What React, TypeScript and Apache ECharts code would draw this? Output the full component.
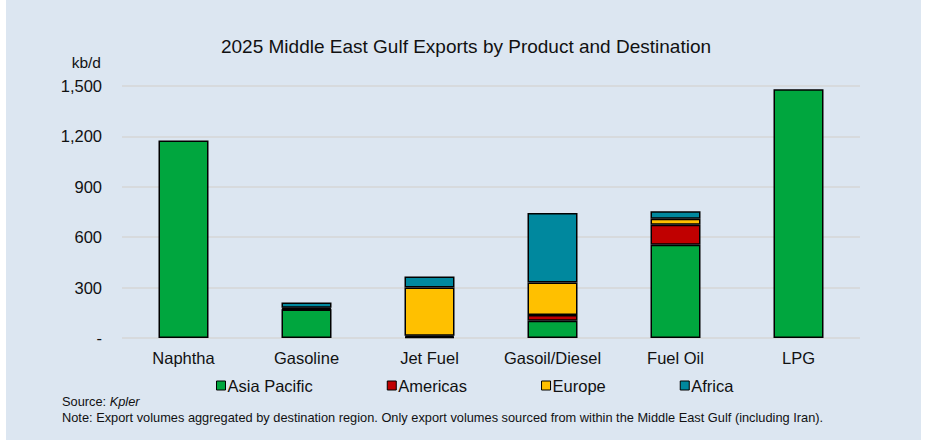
import React, { useEffect, useRef } from "react";
import * as echarts from "echarts";

// Products on the x axis
const categories = ["Naphtha", "Gasoline", "Jet Fuel", "Gasoil/Diesel", "Fuel Oil", "LPG"];

// Export volumes by destination region, kb/d
const asiaPacific = [1175, 170, 6, 103, 555, 1480];
const americas = [0, 3, 8, 34, 119, 0];
const europe = [0, 7, 286, 193, 36, 0];
const africa = [0, 32, 66, 414, 45, 0];

const seriesNames = ["Asia Pacific", "Americas", "Europe", "Africa"];
const seriesColors = ["#00A63E", "#C00000", "#FFC000", "#00889E"];

// Y axis ticks
const yMin = 0;
const yMax = 1500;
const yInterval = 300;

const FONT = "'Liberation Sans', Arial, sans-serif";
const TEXT = "#111111";

export default function App() {
  const ref = useRef<HTMLDivElement>(null);

  useEffect(() => {
    document.body.style.margin = "0";
    if (!ref.current) return;
    const chart = echarts.init(ref.current, undefined, { renderer: "svg" });

    const values = [asiaPacific, americas, europe, africa];

    const series = seriesNames.map((name, i) => ({
      name,
      type: "bar" as const,
      stack: "total",
      barWidth: 50,
      data: values[i].map((v) => (v === 0 ? null : v)),
      itemStyle: {
        color: seriesColors[i],
        borderColor: "#000000",
        borderWidth: 1.5,
      },
    }));

    chart.setOption({
      animation: false,
      backgroundColor: "#ffffff",
      textStyle: { fontFamily: FONT },
      graphic: [
        {
          type: "rect",
          z: -10,
          silent: true,
          shape: { x: 6, y: 0, width: 915, height: 440 },
          style: { fill: "#DCE6F1" },
        },
        {
          type: "text",
          x: 466,
          y: 46,
          style: {
            text: "2025 Middle East Gulf Exports by Product and Destination",
            fontFamily: FONT,
            fontSize: 19,
            fill: TEXT,
            align: "center",
            verticalAlign: "middle",
          },
        },
        {
          type: "text",
          x: 101,
          y: 62,
          style: {
            text: "kb/d",
            fontFamily: FONT,
            fontSize: 15.5,
            fill: TEXT,
            align: "right",
            verticalAlign: "middle",
          },
        },
        {
          type: "text",
          x: 62,
          y: 401,
          style: {
            text: "{n|Source: }{i|Kpler}",
            fontFamily: FONT,
            fontSize: 12.8,
            fill: TEXT,
            verticalAlign: "middle",
            rich: {
              n: { fontFamily: FONT, fontSize: 12.8, fill: TEXT },
              i: { fontFamily: FONT, fontSize: 12.8, fill: TEXT, fontStyle: "italic" },
            },
          },
        },
        {
          type: "text",
          x: 62,
          y: 417,
          style: {
            text:
              "Note: Export volumes aggregated by destination region. Only export volumes sourced from within the Middle East Gulf (including Iran).",
            fontFamily: FONT,
            fontSize: 12.8,
            fill: TEXT,
            verticalAlign: "middle",
          },
        },
      ],
      legend: {
        data: seriesNames,
        left: 211,
        top: 372,
        itemWidth: 9,
        itemHeight: 9,
        itemGap: 74,
        icon: "rect",
        itemStyle: { borderColor: "#000000", borderWidth: 1 },
        textStyle: { fontFamily: FONT, fontSize: 16.5, color: TEXT, padding: [0, 0, 0, -3] },
      },
      grid: { left: 122, right: 65, top: 86, bottom: 102, containLabel: false },
      xAxis: {
        type: "category",
        data: categories,
        axisLine: { show: false },
        axisTick: { show: false },
        axisLabel: { fontFamily: FONT, fontSize: 16.5, color: TEXT, margin: 11, interval: 0 },
      },
      yAxis: {
        type: "value",
        min: yMin,
        max: yMax,
        interval: yInterval,
        axisLine: { show: false },
        axisTick: { show: false },
        axisLabel: {
          fontFamily: FONT,
          fontSize: 16.5,
          color: TEXT,
          margin: 20,
          formatter: (v: number) => (v === 0 ? "-" : v.toLocaleString("en-US")),
        },
        splitLine: { lineStyle: { color: "#D6D6D6", width: 1.5 } },
      },
      series,
    });

    return () => chart.dispose();
  }, []);

  return <div ref={ref} style={{ width: 925, height: 440 }} />;
}
